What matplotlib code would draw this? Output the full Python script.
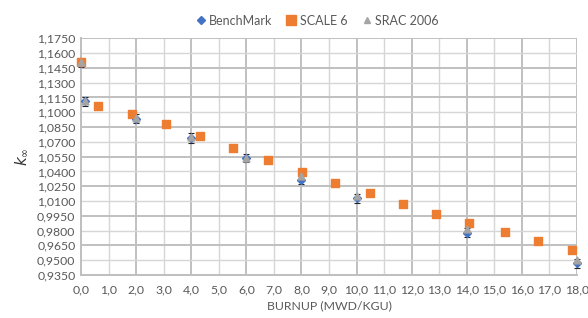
import numpy as np
import matplotlib
matplotlib.use("Agg")
import matplotlib.pyplot as plt
from matplotlib.lines import Line2D

# burnup (MWd/kgU) and k-inf values
bench_x = [0.0, 0.15, 2.0, 4.0, 6.0, 8.0, 10.0, 14.0, 18.0]
bench_k = [1.1500, 1.1112, 1.0935, 1.0742, 1.0536, 1.0314, 1.0128, 0.9779, 0.9468]
bench_err = [0.0045, 0.0045, 0.0045, 0.0050, 0.0045, 0.0045, 0.0045, 0.0045, 0.0045]

scale_x = [0.0, 0.6, 1.84, 3.07, 4.32, 5.53, 6.78, 8.01, 9.23, 10.49, 11.7, 12.89, 14.09, 15.39, 16.6, 17.81]
scale_k = [1.1510, 1.1067, 1.0983, 1.0878, 1.0759, 1.0633, 1.0516, 1.0397, 1.0286, 1.0178, 1.0070, 0.9972, 0.9880, 0.9783, 0.9695, 0.9603]

srac_x = [0.0, 0.15, 2.0, 4.0, 6.0, 8.0, 10.0, 14.0, 18.0]
srac_k = [1.1510, 1.1117, 1.0945, 1.0746, 1.0539, 1.0354, 1.0154, 0.9816, 0.9502]

x_ticks = np.arange(0, 18.01, 1.0)
y_ticks = np.arange(0.935, 1.1751, 0.015)

plt.rcParams['font.family'] = ['Lato', 'DejaVu Sans']
text_col = '#595959'
blue, orange, grey = '#4472C4', '#ED7D31', '#A5A5A5'

fig = plt.figure(figsize=(5.88, 3.18), dpi=100)
ax = fig.add_axes([0.1378, 0.1352, 0.8435, 0.7444])

# grid, alternating heavier / lighter lines like the original
for i, xv in enumerate(x_ticks):
    ax.axvline(xv, color='#c0c0c0' if i % 2 == 0 else '#d6d6d6',
               lw=1.4 if i % 2 == 0 else 1.0, zorder=0)
for i, yv in enumerate(y_ticks):
    ax.axhline(yv, color='#c0c0c0' if i % 2 == 0 else '#d6d6d6',
               lw=1.4 if i % 2 == 0 else 1.0, zorder=0)

ax.errorbar(bench_x, bench_k, yerr=bench_err, fmt='D', color=blue,
            ms=3.8, ecolor='#222222', elinewidth=0.8, capsize=2.5, capthick=0.8,
            zorder=3, clip_on=False)
ax.scatter(scale_x, scale_k, marker='s', s=38, color=orange,
           zorder=4, clip_on=False)
ax.scatter(srac_x, srac_k, marker='^', s=24, color=grey,
           zorder=5, clip_on=False)

ax.set_xlim(0, 18)
ax.set_ylim(0.935, 1.175)
ax.set_xticks(x_ticks)
ax.set_xticklabels([f"{v:.1f}".replace('.', ',') for v in x_ticks])
ax.set_yticks(y_ticks)
ax.set_yticklabels([f"{v:.4f}".replace('.', ',') for v in y_ticks])
ax.tick_params(length=0, labelsize=8.8, labelcolor=text_col, pad=4)
ax.tick_params(axis='x', pad=7)

for s in ['top', 'right']:
    ax.spines[s].set_visible(False)
for s in ['left', 'bottom']:
    ax.spines[s].set_color('#bfbfbf')
    ax.spines[s].set_linewidth(1.4)

ax.set_xlabel('BURNUP (MWD/KGU)', fontsize=8.8, color=text_col, labelpad=3)
fig.text(0.037, 0.507, r'$k_\infty$', rotation=90, fontsize=11,
         color='#333333', ha='center', va='center')

handles = [
    Line2D([], [], ls='none', marker='D', ms=4, color=blue, label='BenchMark'),
    Line2D([], [], ls='none', marker='s', ms=6.5, color=orange, label='SCALE 6'),
    Line2D([], [], ls='none', marker='^', ms=5, color=grey, label='SRAC 2006'),
]
leg = ax.legend(handles=handles, loc='center', bbox_to_anchor=(0.475, 1.075),
                ncol=3, frameon=False, fontsize=9, handletextpad=0.2,
                handlelength=0.9, columnspacing=1.1)
for t in leg.get_texts():
    t.set_color(text_col)

fig.savefig('out.png', dpi=100)
